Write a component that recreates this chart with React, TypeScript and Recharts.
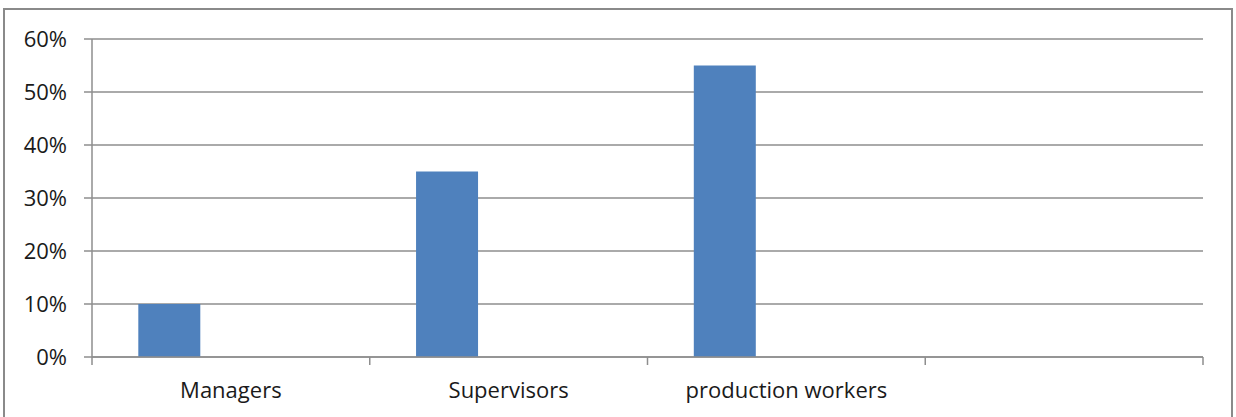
import { BarChart, Bar, XAxis, YAxis, CartesianGrid } from 'recharts';

const categories = ['Managers', 'Supervisors', 'production workers', ''];
const series1 = [0.1, 0.35, 0.55, null];
const series2 = [null, null, null, null];
const series3 = [null, null, null, null];
const yTicks = [0, 0.1, 0.2, 0.3, 0.4, 0.5, 0.6];

const data = categories.map((name, i) => ({
  name,
  s1: series1[i],
  s2: series2[i],
  s3: series3[i],
}));

const WIDTH = 1236;
const HEIGHT = 417;
const MARGIN = { top: 39, right: 33, bottom: 10, left: 0 };
const Y_WIDTH = 92;
const AXIS_COLOR = '#8e8e8e';
const FONT = 'Open Sans, sans-serif';
const FONT_SIZE = 22;

const band = (WIDTH - MARGIN.left - MARGIN.right - Y_WIDTH) / categories.length;

const CategoryTick = (props: any) => {
  const { x, y, payload, index } = props;
  const left = x - band / 2;
  const isLast = index === categories.length - 1;
  return (
    <g>
      <line x1={left} y1={y - 8} x2={left} y2={y} stroke={AXIS_COLOR} strokeWidth={1.5} />
      {isLast && (
        <line x1={left + band} y1={y - 8} x2={left + band} y2={y} stroke={AXIS_COLOR} strokeWidth={1.5} />
      )}
      <text x={x} y={y + 33} textAnchor="middle" fill="#1a1a1a" fontSize={FONT_SIZE} fontFamily={FONT}>
        {payload.value}
      </text>
    </g>
  );
};

export default function App() {
  return (
    <div style={{ position: 'absolute', left: 0, top: 0, width: WIDTH, height: HEIGHT, background: '#fff', overflow: 'hidden' }}>
      <div
        style={{
          position: 'absolute',
          left: 3,
          top: 8,
          width: 1226,
          height: 430,
          border: '2px solid #8a8a8a',
        }}
      />
      <div style={{ position: 'absolute', left: 0, top: 0 }}>
        <BarChart
          width={WIDTH}
          height={HEIGHT}
          data={data}
          margin={MARGIN}
          barCategoryGap="16.67%"
          barGap={0}
        >
          <CartesianGrid vertical={false} stroke={AXIS_COLOR} strokeWidth={1.5} />
          <XAxis
            dataKey="name"
            stroke={AXIS_COLOR}
            strokeWidth={1.5}
            tickLine={false}
            height={50}
            interval={0}
            tick={<CategoryTick />}
          />
          <YAxis
            width={Y_WIDTH}
            domain={[0, 0.6]}
            ticks={yTicks}
            tickFormatter={(v: number) => `${Math.round(v * 100)}%`}
            stroke={AXIS_COLOR}
            strokeWidth={1.5}
            tickSize={8}
            tickMargin={17}
            tick={{ fill: '#1a1a1a', fontSize: FONT_SIZE, fontFamily: FONT }}
          />
          <Bar dataKey="s1" fill="#4f81bd" isAnimationActive={false} />
          <Bar dataKey="s2" fill="#c0504d" isAnimationActive={false} />
          <Bar dataKey="s3" fill="#9bbb59" isAnimationActive={false} />
        </BarChart>
      </div>
    </div>
  );
}
